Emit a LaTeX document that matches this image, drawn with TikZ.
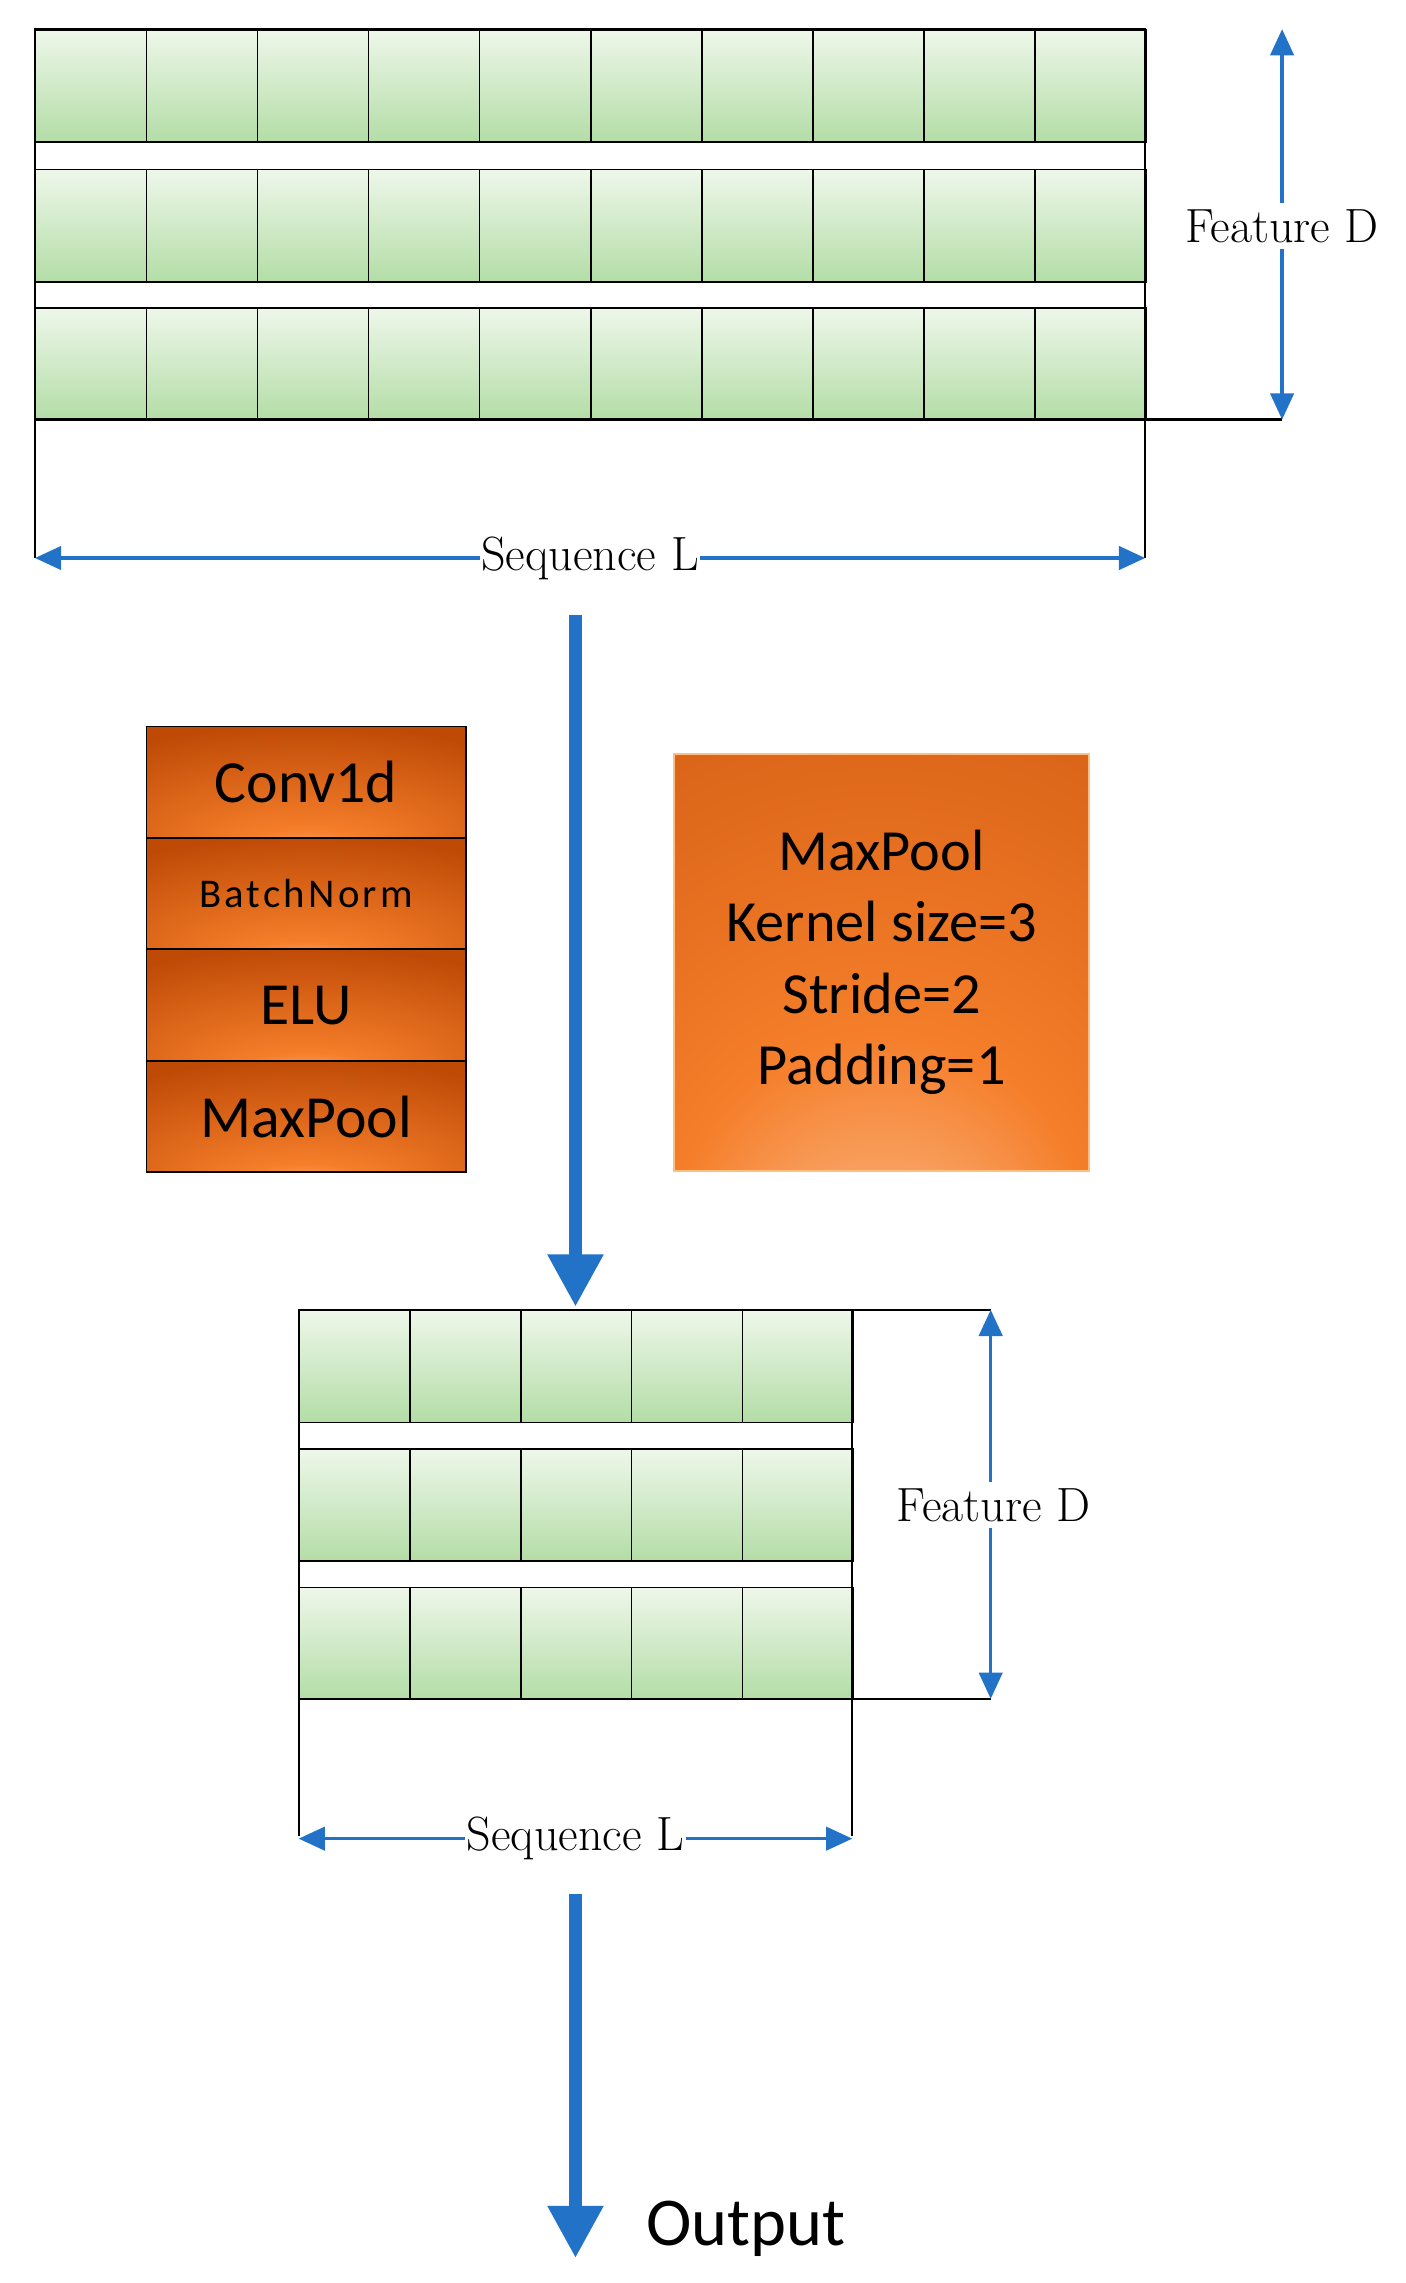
\documentclass[tikz,border=0pt]{standalone}
\usepackage{fontspec}
\newfontfamily\sansf{Carlito}
\newfontfamily\sansls{Carlito}[LetterSpace=8]
\usetikzlibrary{arrows.meta}
\definecolor{blu}{HTML}{2272C8}
\definecolor{gtop}{HTML}{EEF7EA}
\definecolor{gbot}{HTML}{B3DDA6}
\definecolor{odark}{HTML}{BF4A06}
\definecolor{omid}{HTML}{F57E2A}
\definecolor{olight}{HTML}{FCC9A0}
\pgfdeclareradialshading{orng}{\pgfpoint{0bp}{-40bp}}{color(0bp)=(olight); color(12bp)=(omid); color(42bp)=(odark); color(70bp)=(odark)}
\pgfdeclareradialshading{orngbig}{\pgfpoint{0bp}{-45bp}}{color(0bp)=(olight); color(25bp)=(omid); color(80bp)=(odark); color(100bp)=(odark)}
\tikzset{
 cell/.style={draw=black, line width=1pt, top color=gtop, bottom color=gbot},
 dim/.style={blu, line width=2.4pt},
 st/.style={dim, {Triangle[length=18pt,width=16pt]}-},
 en/.style={dim, -{Triangle[length=18pt,width=16pt]}},
 big/.style={blu, line width=9pt, -{Triangle[length=36pt,width=36pt]}},
 lbl/.style={font=\fontsize{33}{35}\selectfont, inner sep=1pt, fill=white},
 ln/.style={line width=1.6pt},
 ob/.style={draw=black, line width=1.2pt, shading=orng, minimum width=219pt, minimum height=76.5pt, inner sep=0pt, anchor=north west, font=\sansf\fontsize{41}{43}\selectfont},
}
\begin{document}
\begin{tikzpicture}[x=1pt,y=-1pt]
\useasboundingbox (0,0) rectangle (965,1567);
% top grid
\foreach \r/\y in {0/20,1/116,2/211}{
 \foreach \i in {0,...,9}{
  \node[cell, minimum width=76.2pt, minimum height=77pt, inner sep=0pt, anchor=north west] (t\r\i) at ({24+76.2*\i},\y) {};
 }}
\draw[ln] (24,20) rectangle (786,288);
\draw[ln] (786,288) -- (880,288);
\draw[ln] (24,288) -- (24,383) (786,288) -- (786,383);
\coordinate (sl1) at (24,383); \coordinate (sl2) at (786,383);
\node[lbl] (seq1) at (405,383) {Sequence L};
\draw[st] (sl1) -- (seq1.west);
\draw[en] (seq1.east) -- (sl2);
\coordinate (fd1) at (880,20); \coordinate (fd2) at (880,288);
\node[lbl, inner sep=4pt] (feat1) at (880,155) {Feature D};
\draw[st] (fd1) -- (feat1.north);
\draw[en] (feat1.south) -- (fd2);
% big arrow
\coordinate (a1) at (395,422); \coordinate (a2) at (395,897);
\draw[big] (a1) -- (a2);
% orange stack
\node[ob] (conv) at (100,498) {Conv1d};
\node[ob, font=\sansls\fontsize{28}{30}\selectfont] (bn) at (100,574.5) {BatchNorm};
\node[ob] (elu) at (100,651) {ELU};
\node[ob] (mp) at (100,727.5) {MaxPool};
\node[draw=orange!50, line width=1.2pt, shading=orngbig, minimum width=285pt, minimum height=286pt, anchor=north west, align=center, font=\sansf\fontsize{40}{49}\selectfont] (mpbox) at (462,517) {MaxPool\\Kernel size=3\\Stride=2\\Padding=1};
% bottom grid
\foreach \r/\y in {0/899,1/994,2/1089}{
 \foreach \i in {0,...,4}{
  \node[cell, minimum width=76pt, minimum height=77pt, inner sep=0pt, anchor=north west] (b\r\i) at ({205+76*\i},\y) {};
 }}
\draw[ln] (205,899) rectangle (585,1166);
\draw[ln] (585,899) -- (680,899) (585,1166) -- (680,1166);
\draw[ln] (205,1166) -- (205,1260) (585,1166) -- (585,1260);
\coordinate (sl3) at (205,1262); \coordinate (sl4) at (585,1262);
\node[lbl] (seq2) at (395,1262) {Sequence L};
\draw[st] (sl3) -- (seq2.west);
\draw[en] (seq2.east) -- (sl4);
\coordinate (fd3) at (680,899); \coordinate (fd4) at (680,1166);
\node[lbl, inner sep=4pt] (feat2) at (682,1033) {Feature D};
\draw[st] (fd3) -- (fd3 |- feat2.north);
\draw[en] (fd4 |- feat2.south) -- (fd4);
% output
\coordinate (o1) at (395,1300); \coordinate (o2) at (395,1550);
\draw[big] (o1) -- (o2);
\node[font=\sansf\fontsize{47}{49}\selectfont, anchor=west] (out) at (440,1530) {Output};
\end{tikzpicture}
\end{document}
